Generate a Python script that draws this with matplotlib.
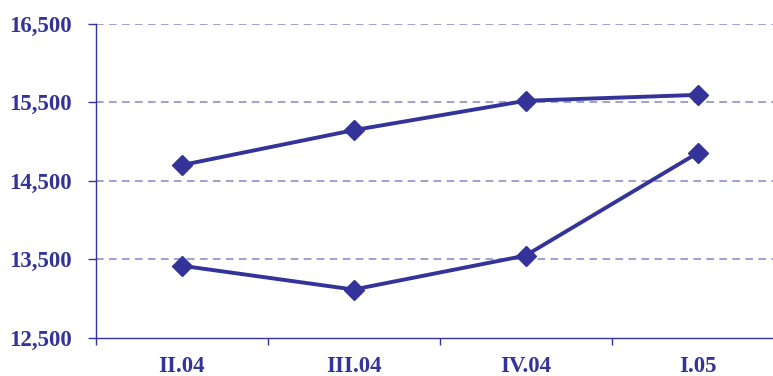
import matplotlib
matplotlib.use("Agg")
import matplotlib.pyplot as plt
from matplotlib.ticker import FixedLocator, FuncFormatter

categories = ["II.04", "III.04", "IV.04", "I.05"]
series_upper = [14700, 15146, 15521, 15596]
series_lower = [13418, 13114, 13547, 14854]
y_ticks = [12500, 13500, 14500, 15500, 16500]

color = "#333399"
grid_color = "#8585c8"

fig = plt.figure(figsize=(7.73, 3.76), dpi=100)
ax = fig.add_axes([95.5 / 773, 1 - 337.7 / 376, 1 - 95.5 / 773, (337.7 - 24) / 376])

x = list(range(len(categories)))
for s in (series_upper, series_lower):
    ax.plot(x, s, color=color, lw=2.8, marker="D", markersize=10, zorder=3, clip_on=False)

ax.set_ylim(12500, 16500)
ax.set_xlim(-0.5, -0.5 + 677.5 / 172)
ax.set_yticks(y_ticks)
ax.yaxis.set_major_formatter(FuncFormatter(lambda v, p: f"{int(v):,}"))
for yv in y_ticks[1:]:
    ax.axhline(yv, color=grid_color, lw=1.1, ls=(0, (5, 3.5)), zorder=1)

ax.set_xticks(x)
ax.set_xticklabels(categories)
ax.xaxis.set_minor_locator(FixedLocator([-0.5, 0.5, 1.5, 2.5, 3.5]))
ax.tick_params(axis="x", which="major", length=0, pad=13)
ax.tick_params(axis="x", which="minor", length=5, width=1, color=color, direction="out")
ax.tick_params(axis="y", length=6, width=1, color=color, direction="out", pad=11)

for lbl in ax.get_xticklabels() + ax.get_yticklabels():
    lbl.set_fontfamily("Liberation Serif")
    lbl.set_fontweight("bold")
    lbl.set_fontsize(16.5)
    lbl.set_color(color)

for side in ("top", "right"):
    ax.spines[side].set_visible(False)
for side in ("left", "bottom"):
    ax.spines[side].set_color(color)
    ax.spines[side].set_linewidth(1.0)

fig.savefig("out.png", dpi=100)
